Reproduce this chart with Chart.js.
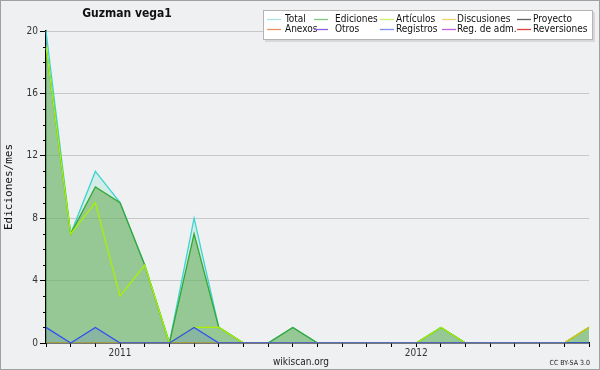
<!DOCTYPE html>
<html>
<head>
<meta charset="utf-8">
<script src="https://cdn.jsdelivr.net/npm/chart.js@4.4.0/dist/chart.umd.min.js"></script>
<style>
  html, body { margin: 0; padding: 0; background: #f0f0f0; }
  canvas { display: block; }
</style>
</head>
<body>
<canvas id="chart" width="600" height="370"></canvas>
<script>
// months Oct 2010 .. Aug 2012
const months = ['2010-10','2010-11','2010-12','2011-01','2011-02','2011-03','2011-04','2011-05',
  '2011-06','2011-07','2011-08','2011-09','2011-10','2011-11','2011-12','2012-01','2012-02',
  '2012-03','2012-04','2012-05','2012-06','2012-07','2012-08'];
const yearTicks = { 3: '2011', 15: '2012' };

const total       = [20, 7, 11, 9, 5, 0, 8, 1, 0, 0, 1, 0, 0, 0, 0, 0, 1, 0, 0, 0, 0, 0, 1];
const ediciones   = [19, 7, 10, 9, 5, 0, 7, 1, 0, 0, 1, 0, 0, 0, 0, 0, 1, 0, 0, 0, 0, 0, 1];
const articulos   = [19, 7,  9, 3, 5, 0, 1, 1, 0, 0, 0, 0, 0, 0, 0, 0, 1, 0, 0, 0, 0, 0, 1];
const discusiones = [ 0, 0,  0, 0, 0, 0, 0, 0, 0, 0, 0, 0, 0, 0, 0, 0, 0, 0, 0, 0, 0, 0, 1];
const registros   = [ 1, 0,  1, 0, 0, 0, 1, 0, 0, 0, 0, 0, 0, 0, 0, 0, 0, 0, 0, 0, 0, 0, 0];

const legendNames  = ['Total', 'Ediciones', 'Artículos', 'Discusiones', 'Proyecto',
  'Anexos', 'Otros', 'Registros', 'Reg. de adm.', 'Reversiones'];
const legendColors = ['#a8e4e4', '#80c880', '#c8f070', '#f0d070', '#606060',
  '#f09060', '#9060e0', '#8090f0', '#c060e0', '#e04040'];

const FONT = '"DejaVu Sans Condensed", "DejaVu Sans", sans-serif';

// ── background, frame, title, legend box, footer ──────────────────────────
const decor = {
  id: 'decor',
  beforeDraw(chart) {
    const ctx = chart.ctx;
    ctx.save();
    ctx.fillStyle = '#eff0f1';
    ctx.fillRect(0, 0, chart.width, chart.height);
    ctx.restore();
  },
  afterDraw(chart) {
    const ctx = chart.ctx;
    const y = chart.scales.y;
    ctx.save();

    // minor y ticks (shorter)
    ctx.strokeStyle = '#000';
    ctx.lineWidth = 1;
    for (let v = 1; v < 20; v++) {
      if (v % 4 === 0) continue;
      const py = Math.round(y.getPixelForValue(v)) + 0.5;
      ctx.beginPath();
      ctx.moveTo(y.right - 3, py);
      ctx.lineTo(y.right, py);
      ctx.stroke();
    }

    // outer frame
    ctx.strokeStyle = '#a0a0a0';
    ctx.strokeRect(0.5, 0.5, chart.width - 1, chart.height - 1);

    // title
    ctx.fillStyle = '#111';
    ctx.font = 'bold 12px ' + FONT;
    ctx.textAlign = 'center';
    ctx.textBaseline = 'middle';
    ctx.fillText('Guzman vega1', 127, 14);

    // legend box (with a faint shadow on the right/bottom)
    ctx.fillStyle = '#d8d8d8';
    ctx.fillRect(265, 12, 330, 30);
    ctx.fillStyle = '#fff';
    ctx.fillRect(263, 10, 330, 30);
    ctx.strokeStyle = '#b4b4b4';
    ctx.strokeRect(263.5, 10.5, 329, 29);
    const lineX = [267, 314, 380, 442, 517];
    const textX = [285, 335, 396, 457, 533];
    ctx.font = '10px ' + FONT;
    ctx.textAlign = 'left';
    ctx.lineWidth = 1.3;
    legendNames.forEach((name, i) => {
      const col = i % 5;
      const ry = i < 5 ? 19.5 : 29.5;
      ctx.strokeStyle = legendColors[i];
      ctx.beginPath();
      ctx.moveTo(lineX[col], ry);
      ctx.lineTo(lineX[col] + 14, ry);
      ctx.stroke();
      ctx.fillStyle = '#111';
      ctx.fillText(name, textX[col], ry);
    });

    // footer
    ctx.fillStyle = '#222';
    ctx.font = '10px ' + FONT;
    ctx.textAlign = 'center';
    ctx.fillText('wikiscan.org', 301, 362);
    ctx.font = '7px ' + FONT;
    ctx.textAlign = 'right';
    ctx.fillText('CC BY-SA 3.0', 590, 363);
    ctx.restore();
  }
};

new Chart(document.getElementById('chart'), {
  type: 'line',
  data: {
    labels: months,
    datasets: [
      {
        label: 'Total', data: total, order: 5,
        borderColor: '#40d4d0', backgroundColor: 'rgba(150,230,210,0.3)', fill: 'origin',
      },
      {
        label: 'Ediciones', data: ediciones, order: 4,
        borderColor: '#34a834', backgroundColor: 'rgba(88,164,69,0.5)', fill: 'origin',
      },
      {
        label: 'Artículos', data: articulos, order: 3,
        borderColor: '#aaf000', fill: false,
      },
      {
        label: 'Discusiones', data: discusiones, order: 2,
        borderColor: '#d8c020', fill: false,
      },
      {
        label: 'Registros', data: registros, order: 1,
        borderColor: '#3050f0', backgroundColor: 'rgba(60,80,230,0.15)', fill: 'origin',
      },
    ],
  },
  options: {
    responsive: false,
    animation: false,
    layout: { padding: { top: 31, right: 11, left: 0, bottom: 0 } },
    elements: {
      point: { radius: 0 },
      line: { tension: 0, borderWidth: 1.3 },
    },
    plugins: {
      legend: { display: false },
      tooltip: { enabled: false },
    },
    scales: {
      x: {
        offset: false,
        grid: { color: 'transparent', tickColor: '#000', tickLength: 4, drawOnChartArea: false },
        border: { color: '#000', width: 1.5 },
        ticks: {
          autoSkip: false, maxRotation: 0, padding: 0, color: '#333',
          font: { family: FONT, size: 10 },
          callback: (v, i) => yearTicks[i] || '',
        },
        afterFit: s => { s.height = 27; },
      },
      y: {
        min: 0, max: 20,
        grid: {
          color: c => (c.tick && c.tick.value % 4 === 0 && c.tick.value > 0) ? '#c8c8c8' : 'transparent',
          tickColor: c => (c.tick && c.tick.value % 4 === 0) ? '#000' : 'transparent',
          tickLength: 6,
        },
        border: { color: '#000', width: 1.5 },
        ticks: {
          stepSize: 1, autoSkip: false, padding: 2, color: '#333',
          font: { family: FONT, size: 10 },
          callback: v => (v % 4 === 0 ? v : ''),
        },
        title: {
          display: true, text: 'Ediciones/mes', color: '#111',
          font: { family: '"DejaVu Sans Mono", monospace', size: 11 },
          padding: { top: 3, bottom: 0 },
        },
        afterFit: s => { s.width = 46; },
      },
    },
  },
  plugins: [decor],
});
</script>
</body>
</html>
